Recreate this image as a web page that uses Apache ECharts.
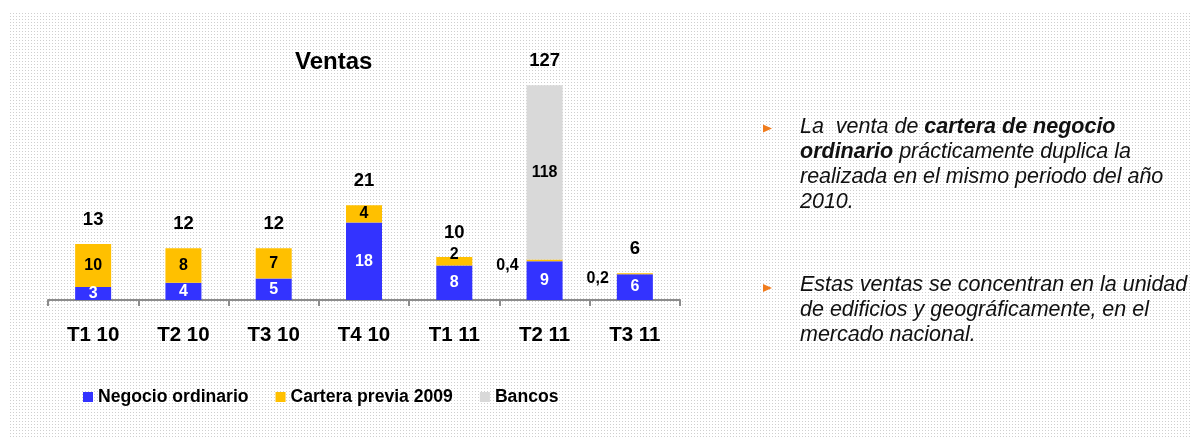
<!DOCTYPE html>
<html>
<head>
<meta charset="utf-8">
<script src="https://cdn.jsdelivr.net/npm/echarts@6/dist/echarts.min.js"></script>
<style>
html,body{margin:0;padding:0;background:#fff;}
#c{width:1192px;height:439px;}
</style>
</head>
<body>
<div id="c"></div>
<script>
const categories = ['T1 10', 'T2 10', 'T3 10', 'T4 10', 'T1 11', 'T2 11', 'T3 11'];
const negocioOrdinario = [3, 4, 5, 18, 8, 9, 6];
const carteraPrevia2009 = [10, 8, 7, 4, 2, 0.4, 0.2];
const bancos = [0, 0, 0, 0, 0, 118, 0];
const totals = [13, 12, 12, 21, 10, 127, 6];
const seriesNames = ['Negocio ordinario', 'Cartera previa 2009', 'Bancos'];
const titleText = 'Ventas';

const FONT = "'Liberation Sans', Arial, sans-serif";
const fmt = v => String(v).replace('.', ',');

// dotted background tile
const tile = document.createElement('canvas');
tile.width = 3; tile.height = 3;
const tctx = tile.getContext('2d');
tctx.fillStyle = '#ffffff'; tctx.fillRect(0, 0, 3, 3);
tctx.fillStyle = '#cfcfcf'; tctx.fillRect(1, 1, 1, 1);

const chart = echarts.init(document.getElementById('c'), null, {renderer: 'canvas'});

const yellowData = carteraPrevia2009.map(v => {
  if (v < 1) return {value: v, label: {position: 'left', distance: 8, offset: [0, 5], color: '#000'}};
  if (v < 3) return {value: v, label: {position: 'inside', offset: [0, -7]}};
  return v;
});

const bulletColor = '#f07c1e';
const option = {
  backgroundColor: '#fff',
  animation: false,
  title: {
    text: titleText, left: 295, top: 50, padding: 0,
    textStyle: {fontFamily: FONT, fontSize: 24, fontWeight: 'bold', color: '#000'}
  },
  legend: {
    data: seriesNames,
    left: 83, top: 388, padding: 0,
    icon: 'rect', itemWidth: 10, itemHeight: 10, itemGap: 27,
    textStyle: {fontFamily: FONT, fontSize: 17.6, fontWeight: 'bold', color: '#000'}
  },
  grid: {left: 48, width: 632, bottom: 139, top: 74, containLabel: false},
  xAxis: {
    type: 'category', data: categories,
    axisLine: {lineStyle: {color: '#8c8c8c', width: 2}},
    axisTick: {show: true, length: 6, lineStyle: {color: '#8c8c8c', width: 2}},
    axisLabel: {fontFamily: FONT, fontSize: 20.5, fontWeight: 'bold', color: '#000', margin: 25}
  },
  yAxis: {
    type: 'value', min: 0, max: 130,
    breaks: [{start: 40, end: 117.5, gap: 0}],
    breakArea: {show: false},
    axisLine: {show: false}, axisTick: {show: false},
    axisLabel: {show: false}, splitLine: {show: false}
  },
  graphic: [
    {type: 'rect', z: -10, silent: true, shape: {x: 8, y: 13, width: 1184, height: 426},
     style: {fill: {image: tile, repeat: 'repeat'}}},
    {type: 'polygon', silent: true, shape: {points: [[763, 124.5], [772, 128.5], [763, 132.5]]}, style: {fill: bulletColor}},
    {type: 'polygon', silent: true, shape: {points: [[763, 284], [772, 288], [763, 292]]}, style: {fill: bulletColor}},
    {type: 'text', left: 800, top: 116, style: {
      text: '{i|La  venta de }{b|cartera de negocio}\n{b|ordinario}{i| prácticamente duplica la}\n{i|realizada en el mismo periodo del año}\n{i|2010.}',
      rich: {
        i: {fontFamily: FONT, fontStyle: 'italic', fontSize: 21.5, lineHeight: 25, fill: '#111', color: '#111'},
        b: {fontFamily: FONT, fontStyle: 'italic', fontWeight: 'bold', fontSize: 21.5, lineHeight: 25, fill: '#111', color: '#111'}
      }
    }},
    {type: 'text', left: 800, top: 274, style: {
      text: '{i|Estas ventas se concentran en la unidad}\n{i|de edificios y geográficamente, en el}\n{i|mercado nacional.}',
      rich: {
        i: {fontFamily: FONT, fontStyle: 'italic', fontSize: 21.5, lineHeight: 25, fill: '#111', color: '#111'}
      }
    }}
  ],
  series: [
    {
      name: seriesNames[0], type: 'bar', stack: 's', barWidth: 36, data: negocioOrdinario,
      itemStyle: {color: '#3333ff'},
      label: {show: true, position: 'inside', color: '#fff', fontFamily: FONT, fontSize: 16, fontWeight: 'bold',
        formatter: p => p.value ? fmt(p.value) : ''}
    },
    {
      name: seriesNames[1], type: 'bar', stack: 's', barWidth: 36, data: yellowData,
      itemStyle: {color: '#ffc000'},
      label: {show: true, position: 'inside', color: '#000', fontFamily: FONT, fontSize: 16, fontWeight: 'bold',
        formatter: p => p.value ? fmt(p.value) : ''}
    },
    {
      name: seriesNames[2], type: 'bar', stack: 's', barWidth: 36, data: bancos,
      itemStyle: {color: '#d9d9d9'},
      label: {show: true, position: 'inside', color: '#000', fontFamily: FONT, fontSize: 16, fontWeight: 'bold',
        formatter: p => p.value ? fmt(p.value) : ''}
    },
    {
      name: 'Total', type: 'bar', stack: 's', barWidth: 36, data: totals.map(() => 0),
      itemStyle: {color: 'transparent'},
      label: {show: true, position: 'top', distance: 15, color: '#000', fontFamily: FONT, fontSize: 18.5, fontWeight: 'bold',
        formatter: p => fmt(totals[p.dataIndex])}
    }
  ]
};
chart.setOption(option);
</script>
</body>
</html>
